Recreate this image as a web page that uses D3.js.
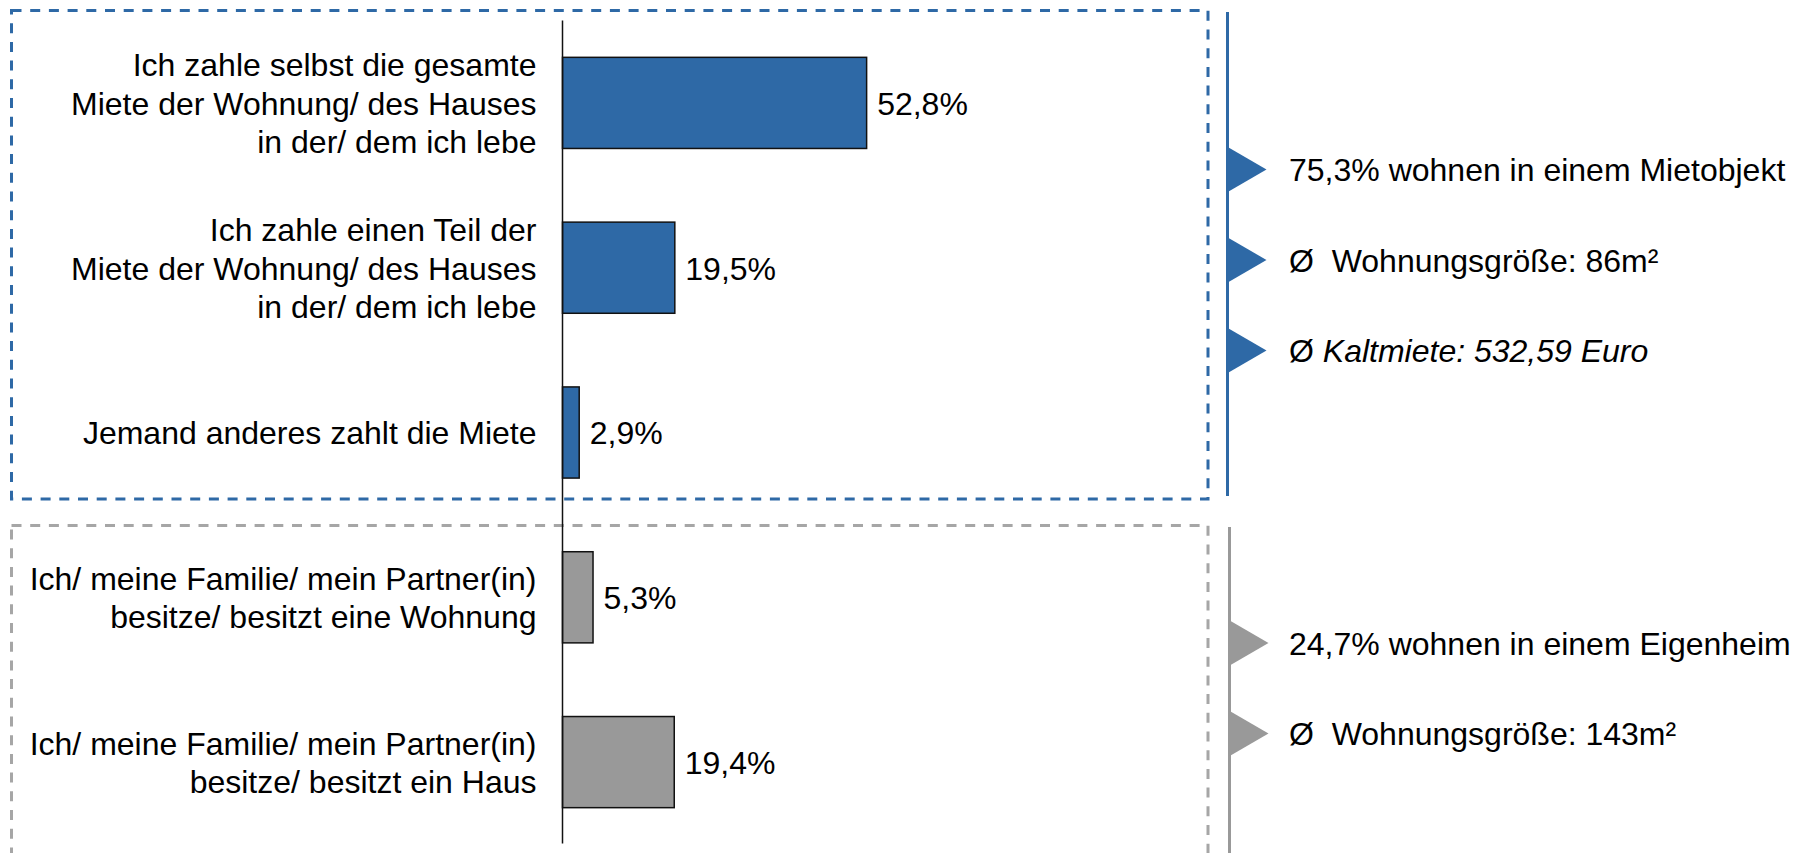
<!DOCTYPE html>
<html>
<head>
<meta charset="utf-8">
<script src="https://cdn.jsdelivr.net/npm/d3@7"></script>
<style>
  html, body { margin: 0; padding: 0; background: #ffffff; }
  svg { display: block; font-family: Arial, "Liberation Sans", sans-serif; }
  text { white-space: pre; }
</style>
</head>
<body>
<svg id="chart" width="1803" height="853"></svg>
<script>
// Wohnsituation: Anteile der Befragten (in %)
const categories = [
  ["Ich zahle selbst die gesamte", "Miete der Wohnung/ des Hauses", "in der/ dem ich lebe"],
  ["Ich zahle einen Teil der", "Miete der Wohnung/ des Hauses", "in der/ dem ich lebe"],
  ["Jemand anderes zahlt die Miete"],
  ["Ich/ meine Familie/ mein Partner(in)", "besitze/ besitzt eine Wohnung"],
  ["Ich/ meine Familie/ mein Partner(in)", "besitze/ besitzt ein Haus"]
];
const values = [52.8, 19.5, 2.9, 5.3, 19.4];
const groups = ["miete", "miete", "miete", "eigentum", "eigentum"];
const valueLabels = ["52,8%", "19,5%", "2,9%", "5,3%", "19,4%"];

// Zusammenfassungen rechts neben den Gruppen
const mieteNotes = ["75,3% wohnen in einem Mietobjekt", "Ø  Wohnungsgröße: 86m²", "Ø |Kaltmiete: 532,59 Euro"];
const eigentumNotes = ["24,7% wohnen in einem Eigenheim", "Ø  Wohnungsgröße: 143m²"];

const BLUE = "#2E69A6";
const GREY = "#999999";
const FONT = 32;
const LINE = 38.5;

const svg = d3.select("#chart");

const x0 = 562.5;
const x = d3.scaleLinear().domain([0, 100]).range([x0, x0 + 576]);
const y = d3.scaleBand()
  .domain(d3.range(values.length))
  .range([20.5, 844.5])
  .paddingInner(0.447)
  .paddingOuter(0.2235);

// gestrichelte Rahmen der beiden Gruppen
svg.append("rect")
  .attr("x", 11.5).attr("y", 10.5)
  .attr("width", 1196.5).attr("height", 488.5)
  .attr("fill", "none").attr("stroke", BLUE)
  .attr("stroke-width", 3).attr("stroke-dasharray", "10,8.7");

svg.append("rect")
  .attr("x", 11.5).attr("y", 525.5)
  .attr("width", 1196.5).attr("height", 400)
  .attr("fill", "none").attr("stroke", "#A6A6A6")
  .attr("stroke-width", 3).attr("stroke-dasharray", "10,8.7");

// Balken
svg.append("g").selectAll("rect")
  .data(values)
  .join("rect")
  .attr("x", x(0))
  .attr("y", (d, i) => y(i))
  .attr("width", d => x(d) - x(0))
  .attr("height", y.bandwidth())
  .attr("fill", (d, i) => groups[i] === "miete" ? BLUE : GREY)
  .attr("stroke", "#111")
  .attr("stroke-width", 1.5);

// Achse
svg.append("line")
  .attr("x1", x0).attr("x2", x0)
  .attr("y1", y.range()[0]).attr("y2", y.range()[1] - 1)
  .attr("stroke", "#111").attr("stroke-width", 1.5);

// Kategorienbeschriftung
const catG = svg.append("g")
  .attr("font-size", FONT).attr("fill", "#000").attr("text-anchor", "end");
categories.forEach((lines, i) => {
  const cy = y(i) + y.bandwidth() / 2;
  const t = catG.append("text").attr("x", x0 - 26);
  lines.forEach((ln, j) => {
    t.append("tspan")
      .attr("x", x0 - 26)
      .attr("y", cy + 0.37 * FONT + (j - (lines.length - 1) / 2) * LINE)
      .text(ln);
  });
});

// Wertebeschriftung
svg.append("g").selectAll("text")
  .data(values)
  .join("text")
  .attr("x", d => x(d) + 10.5)
  .attr("y", (d, i) => y(i) + y.bandwidth() / 2 + 0.37 * FONT)
  .attr("font-size", FONT)
  .text((d, i) => valueLabels[i]);

// Seitenleisten mit Pfeilmarken und Texten
function sideBlock(lineX, y1, y2, color, tips, notes) {
  const g = svg.append("g");
  g.append("line")
    .attr("x1", lineX).attr("x2", lineX)
    .attr("y1", y1).attr("y2", y2)
    .attr("stroke", color).attr("stroke-width", 3);
  tips.forEach((ty, k) => {
    g.append("path")
      .attr("d", `M${lineX - 1.5},${ty - 23.5} L${lineX + 39},${ty} L${lineX - 1.5},${ty + 23.5} Z`)
      .attr("fill", color);
    const t = g.append("text")
      .attr("x", 1289)
      .attr("y", ty + 0.37 * FONT)
      .attr("font-size", FONT)
      .attr("fill", "#000");
    const parts = notes[k].split("|");
    if (parts.length === 1) {
      t.text(parts[0]);
    } else {
      t.append("tspan").text(parts[0]);
      t.append("tspan").attr("font-style", "italic").text(parts[1]);
    }
  });
}

sideBlock(1227.5, 12, 496, BLUE, [169.5, 260, 350.5], mieteNotes);
sideBlock(1229.5, 527, 860, GREY, [643, 733.5], eigentumNotes);
</script>
</body>
</html>
